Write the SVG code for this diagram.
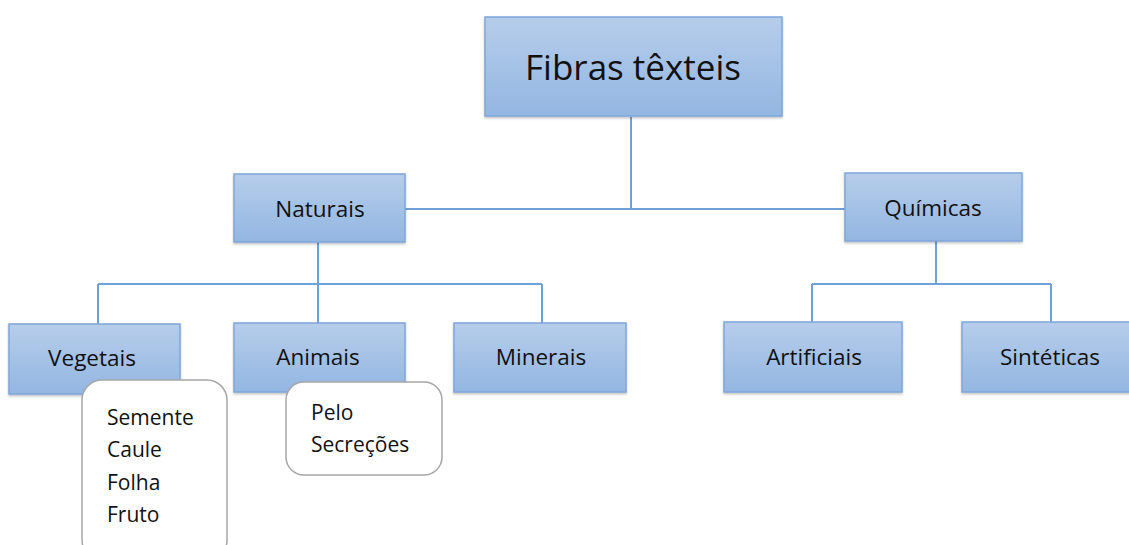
<svg xmlns="http://www.w3.org/2000/svg" width="1129" height="545" viewBox="0 0 1129 545">
<defs>
<linearGradient id="g" x1="0" y1="0" x2="0" y2="1">
<stop offset="0" stop-color="#b6cdea"/>
<stop offset="1" stop-color="#93b6e2"/>
</linearGradient>
<filter id="sh" x="-10%" y="-10%" width="120%" height="130%">
<feDropShadow dx="0" dy="1.5" stdDeviation="1.2" flood-color="#000" flood-opacity="0.25"/>
</filter>
</defs>
<style>
.box{fill:url(#g);stroke:#7fa7da;stroke-width:1.5;filter:url(#sh)}
.note{fill:#fff;stroke:#a6a6a6;stroke-width:1.5}
.t{font-family:"Open Sans","Liberation Sans",sans-serif;fill:#111;text-anchor:middle;dominant-baseline:central}
.n{font-family:"Open Sans","Liberation Sans",sans-serif;fill:#111;font-size:21px}
.c{stroke:#6fa0d8;stroke-width:2;fill:none}
</style>
<rect width="1129" height="545" fill="#fff"/>
<g id="connectors">
<path class="c" d="M631 117 V209 M405 209 H845"/>
<path class="c" d="M318 242 V284 M98 284 H542 M98 284 V324 M318 284 V323 M542 284 V323"/>
<path class="c" d="M936 241 V284 M812 284 H1051 M812 284 V322 M1051 284 V322"/>
</g>
<g id="fibras"><rect class="box" x="485" y="17" width="297" height="99"/><text class="t" x="633" y="66" font-size="35">Fibras têxteis</text></g>
<g id="naturais"><rect class="box" x="234" y="174" width="171" height="68"/><text class="t" x="320" y="208" font-size="22.5">Naturais</text></g>
<g id="quimicas"><rect class="box" x="845" y="173" width="177" height="68"/><text class="t" x="933" y="207" font-size="22.5">Químicas</text></g>
<g id="vegetais"><rect class="box" x="9" y="324" width="171" height="70"/><text class="t" x="92" y="357" font-size="22.5">Vegetais</text></g>
<g id="animais"><rect class="box" x="234" y="323" width="171" height="69"/><text class="t" x="318" y="356" font-size="22.5">Animais</text></g>
<g id="minerais"><rect class="box" x="454" y="323" width="172" height="69"/><text class="t" x="541" y="356" font-size="22.5">Minerais</text></g>
<g id="artificiais"><rect class="box" x="724" y="322" width="178" height="70"/><text class="t" x="814" y="356" font-size="22.5">Artificiais</text></g>
<g id="sinteticas"><rect class="box" x="962" y="322" width="172" height="70"/><text class="t" x="1050" y="356" font-size="22.5">Sintéticas</text></g>
<g id="vegetais-lista"><rect class="note" x="82" y="380" width="145" height="180" rx="20"/>
<text class="n" x="107" y="425">Semente</text><text class="n" x="107" y="457">Caule</text><text class="n" x="107" y="490">Folha</text><text class="n" x="107" y="522">Fruto</text></g>
<g id="animais-lista"><rect class="note" x="286" y="382" width="156" height="93" rx="18"/>
<text class="n" x="311" y="420">Pelo</text><text class="n" x="311" y="452">Secreções</text></g>
</svg>
